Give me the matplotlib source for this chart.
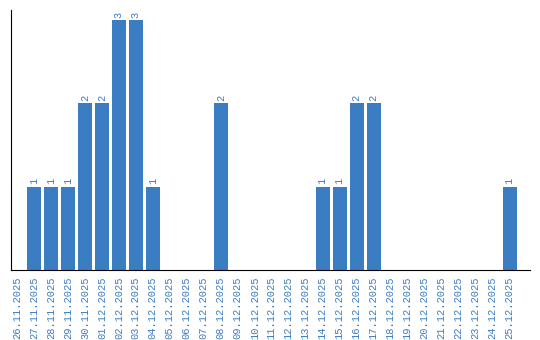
import matplotlib
matplotlib.use("Agg")
import matplotlib.pyplot as plt

dates = ["26.11.2025", "27.11.2025", "28.11.2025", "29.11.2025", "30.11.2025",
         "01.12.2025", "02.12.2025", "03.12.2025", "04.12.2025", "05.12.2025",
         "06.12.2025", "07.12.2025", "08.12.2025", "09.12.2025", "10.12.2025",
         "11.12.2025", "12.12.2025", "13.12.2025", "14.12.2025", "15.12.2025",
         "16.12.2025", "17.12.2025", "18.12.2025", "19.12.2025", "20.12.2025",
         "21.12.2025", "22.12.2025", "23.12.2025", "24.12.2025", "25.12.2025"]
counts = [0, 1, 1, 1, 2, 2, 3, 3, 1, 0,
          0, 0, 2, 0, 0, 0, 0, 0, 1, 1,
          2, 2, 0, 0, 0, 0, 0, 0, 0, 1]

blue = "#3b7dc2"

fig = plt.figure(figsize=(5.4, 3.4), dpi=100)
ax = fig.add_axes([0.0204, 0.206, 0.961, 0.764])

x = range(len(dates))
bars = ax.bar(x, counts, width=0.82, color=blue)

for i, v in enumerate(counts):
    if v > 0:
        ax.text(i, v + 0.03, str(v), rotation=90, ha="center", va="bottom",
                color=blue, fontsize=7.5, family="Liberation Mono")

ax.set_xticks(list(x))
ax.set_xticklabels(dates, rotation=90, color=blue, fontsize=7.5,
                   family="Liberation Mono")
ax.tick_params(axis="x", length=0, pad=5)
ax.set_yticks([])
ax.set_xlim(-0.35, 30.2)
ax.set_ylim(0, 3.12)
ax.spines["top"].set_visible(False)
ax.spines["right"].set_visible(False)

fig.savefig("out.png", dpi=100)
